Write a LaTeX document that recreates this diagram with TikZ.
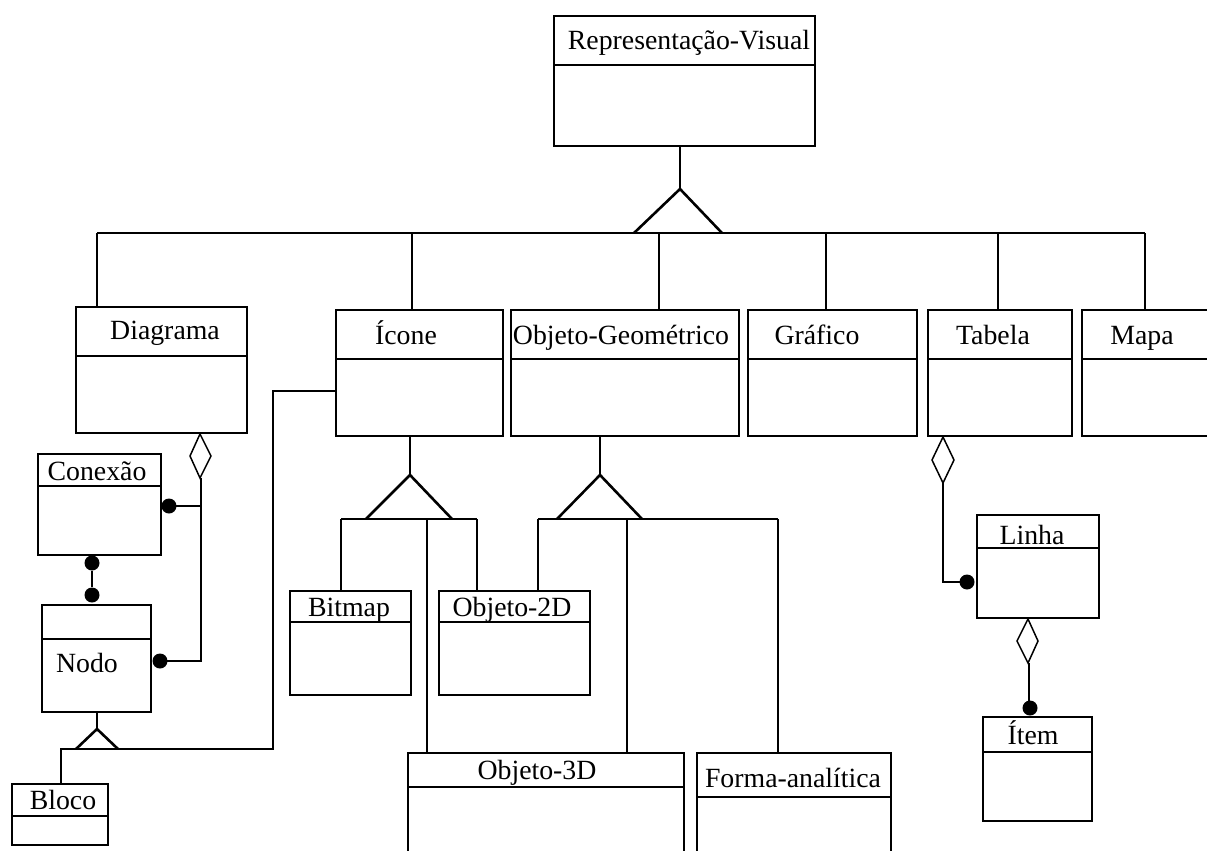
\documentclass[tikz,border=0pt]{standalone}
\usepackage{fontspec}
\setmainfont{Liberation Serif}
\newcommand{\umlcls}[9]{%
  \node[clsbox, minimum width={#4-#2}, minimum height={#5-#3}, anchor=north west] (#1) at (#2,#3) {};
  \draw[clsline] (#2,#6) -- (#4,#6);
  \node[clstext] (#1-t) at (#7,#8) {#9};
}
\begin{document}
\begin{tikzpicture}[x=1pt,y=-1pt,
  clsbox/.style={draw=black, line width=2.4pt, inner sep=0pt, outer sep=0pt},
  clsline/.style={line width=2.4pt},
  clstext/.style={anchor=base, inner sep=0pt, font=\fontsize{27.8}{30}\selectfont},
  conn/.style={line width=2.2pt},
  gentri/.style={line width=2.6pt, line join=miter},
  aggr/.style={draw=black, line width=1.5pt, fill=white},
  dot/.style={circle, fill=black, inner sep=0pt, minimum size=15pt},
]
\useasboundingbox (0,0) rectangle (1207,851);
\clip (0,0) rectangle (1207,851);

% classes
\umlcls{rv}{554}{16}{815}{146}{65}{689}{49}{Representação-Visual}
\umlcls{diag}{76}{307}{247}{433}{356}{165}{339}{Diagrama}
\umlcls{icone}{336}{310}{503}{436}{359}{406}{344}{Ícone}
\umlcls{ogeo}{511}{310}{739}{436}{359}{621}{344}{Objeto-Geométrico}
\umlcls{graf}{748}{310}{917}{436}{359}{817}{344}{Gráfico}
\umlcls{tab}{928}{310}{1072}{436}{359}{993}{344}{Tabela}
\umlcls{mapa}{1082}{310}{1230}{436}{359}{1142}{344}{Mapa}
\umlcls{conex}{38}{454}{161}{555}{486}{97}{480}{Conexão}
\umlcls{nodo}{42}{605}{151}{712}{639}{87}{672}{Nodo}
\umlcls{bloco}{12}{784}{108}{845}{816}{63}{809}{Bloco}
\umlcls{bitmap}{290}{591}{411}{695}{622}{349}{616}{Bitmap}
\umlcls{otwod}{439}{591}{590}{695}{622}{512}{616}{Objeto-2D}
\umlcls{othreed}{408}{753}{684}{880}{787}{537}{779}{Objeto-3D}
\umlcls{forma}{697}{753}{891}{880}{797}{793}{787}{Forma-analítica}
\umlcls{linha}{977}{515}{1099}{618}{548}{1032}{544}{Linha}
\umlcls{item}{983}{717}{1092}{821}{752}{1033}{744}{Ítem}

% top generalization
\coordinate (rvapex) at (680,189);
\coordinate (busL) at (97,233);
\coordinate (busR) at (1145,233);
\draw[conn] (rv.south -| rvapex) -- (rvapex);
\draw[conn] (busL) -- (busR);
\draw[gentri] (634,233) -- (rvapex) -- (722,233);
\draw[conn] (busL) -- (busL |- diag.north);
\draw[conn] (412,233) -- (412,0 |- icone.north);
\draw[conn] (659,233) -- (659,0 |- ogeo.north);
\draw[conn] (826,233) -- (826,0 |- graf.north);
\draw[conn] (998,233) -- (998,0 |- tab.north);
\draw[conn] (busR) -- (busR |- mapa.north);

% Icone generalization
\coordinate (icapex) at (410,475);
\draw[conn] (icapex |- icone.south) -- (icapex);
\draw[conn] (341,519) -- (477,519);
\draw[gentri] (366,519) -- (icapex) -- (452,519);
\draw[conn] (341,519) -- (341,0 |- bitmap.north);
\draw[conn] (427,519) -- (427,0 |- othreed.north);
\draw[conn] (477,519) -- (477,0 |- otwod.north);

% Objeto-Geometrico generalization
\coordinate (ogapex) at (600,475);
\draw[conn] (ogapex |- ogeo.south) -- (ogapex);
\draw[conn] (538,519) -- (778,519);
\draw[gentri] (557,519) -- (ogapex) -- (642,519);
\draw[conn] (538,519) -- (538,0 |- otwod.north);
\draw[conn] (627,519) -- (627,0 |- othreed.north);
\draw[conn] (778,519) -- (778,0 |- forma.north);

% Diagrama aggregation
\draw[conn] (201,478) -- (201,661) -- (160,661);
\draw[conn] (201,506) -- (169,506);
\draw[aggr] (200,434) -- (211,456) -- (200,478) -- (190,456) -- cycle;
\node[dot] (dc) at (169,506) {};
\node[dot] (dn) at (160,661) {};

% Conexao - Nodo
\node[dot] (cn1) at (92,563) {};
\node[dot] (cn2) at (92,595) {};
\draw[conn] (cn1) -- (cn2);

% Nodo generalization
\coordinate (ndapex) at (97,729);
\draw[conn] (ndapex |- nodo.south) -- (ndapex);
\draw[conn] (61,0 |- bloco.north) -- (61,749) -- (273,749) -- (273,391) -- (273,391 -| icone.west);
\draw[gentri] (76,749) -- (ndapex) -- (118,749);

% Tabela aggregation
\draw[conn] (943,483) -- (943,582) -- (967,582);
\draw[aggr] (943,437) -- (954,460) -- (943,483) -- (932,460) -- cycle;
\node[dot] (dl) at (967,582) {};

% Linha aggregation
\draw[conn] (1029,663) -- (1029,708);
\draw[aggr] (1028,619) -- (1038,641) -- (1028,663) -- (1017,641) -- cycle;
\node[dot] (di) at (1030,708) {};
\end{tikzpicture}
\end{document}
